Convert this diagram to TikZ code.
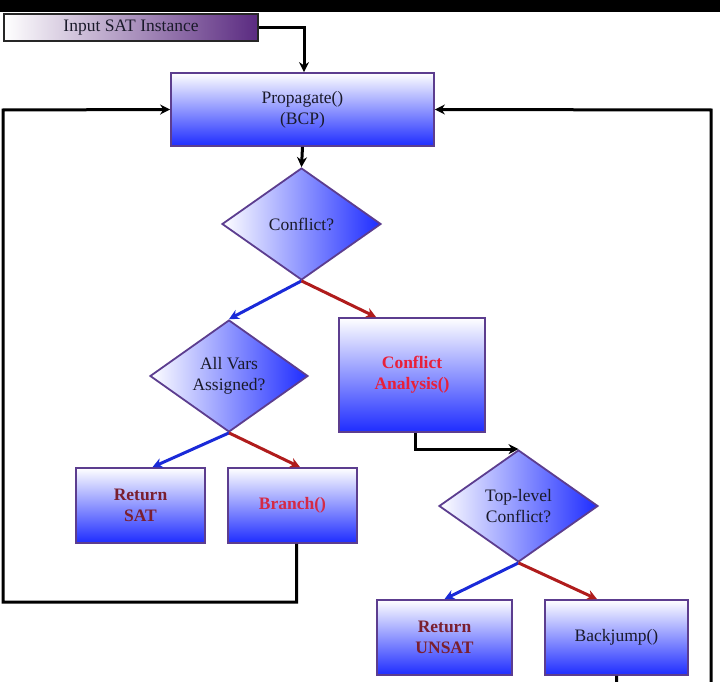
\documentclass[tikz,border=0pt]{standalone}
\usepackage{fontspec}
\setmainfont{Liberation Serif}
\usetikzlibrary{shapes.geometric,arrows.meta,calc}
\definecolor{bord}{HTML}{5C3D8F}
\definecolor{boxblue}{HTML}{1E2CFF}
\definecolor{inpurple}{HTML}{5A2A80}
\definecolor{txtdark}{HTML}{1A1A2A}
\definecolor{darkred}{HTML}{7A1F2F}
\definecolor{brred}{HTML}{D42A45}
\definecolor{carred}{HTML}{E8203A}
\definecolor{arrblue}{HTML}{1A2AD8}
\definecolor{arrred}{HTML}{B01C1C}
\newcommand\myfs{\fontsize{17.5}{21}\selectfont}
\begin{document}
\begin{tikzpicture}[x=1pt,y=-1pt,
  box/.style={rectangle, draw=bord, line width=1.8pt, top color=white, bottom color=boxblue,
    inner sep=0pt, align=center, font=\myfs, text=txtdark},
  dia/.style={diamond, draw=bord, line width=1.8pt, left color=white, right color=boxblue,
    inner sep=0pt, align=center, font=\myfs, text=txtdark, aspect=1.42},
  inbox/.style={rectangle, draw=black!85, line width=2.2pt, left color=white, right color=inpurple,
    inner sep=0pt, align=center, font=\myfs, text=txtdark},
  conn/.style={line width=3pt, -{Stealth[length=10pt,width=10pt]}},
  blk/.style={conn, draw=black},
  yes/.style={conn, draw=arrblue, -{Stealth[length=10pt,width=10pt,fill=arrblue]}},
  no/.style={conn, draw=arrred, -{Stealth[length=10pt,width=10pt,fill=arrred]}},
  plain/.style={line width=3pt, draw=black}
]
\useasboundingbox (0,0) rectangle (720,682);
\fill[black] (0,0) rectangle (720,12);

\node[inbox, minimum width=254pt, minimum height=27pt] (input) at (131,27.5) {Input SAT Instance};
\node[box, minimum width=263pt, minimum height=73pt] (prop) at (302.5,109.5) {Propagate()\\(BCP)};
\node[dia, minimum width=159pt, minimum height=112pt] (conf) at (301.5,224) {Conflict?};
\node[dia, minimum width=158pt, minimum height=112pt] (allv) at (229,376) {All Vars\\Assigned?};
\node[box, minimum width=146pt, minimum height=114pt, text=carred, font=\myfs\bfseries] (ca) at (412,375) {Conflict\\Analysis()};
\node[box, minimum width=129pt, minimum height=75pt, text=darkred, font=\myfs\bfseries] (rsat) at (140.5,505.5) {Return\\SAT};
\node[box, minimum width=129pt, minimum height=75pt, text=brred, font=\myfs\bfseries] (branch) at (292.5,505.5) {Branch()};
\node[dia, minimum width=159pt, minimum height=112pt] (top) at (518.5,506) {Top-level\\Conflict?};
\node[box, minimum width=135pt, minimum height=75pt, text=darkred, font=\myfs\bfseries] (runsat) at (444.5,637.5) {Return\\UNSAT};
\node[box, minimum width=143pt, minimum height=75pt] (bj) at (616.5,637.5) {Backjump()};

\coordinate (lb) at (3,602);
\coordinate (lt) at (3,110);
\coordinate (rb) at (711,720);
\coordinate (rt) at (711,110);

\draw[blk] (input.east) -| ($(prop.north)+(1.5,0)$);
\draw[blk] (prop.south) -- (conf.north);
\draw[yes] (conf.south) -- (allv.north);
\draw[no] (conf.south) -- ($(ca.north west)+(38,0)$);
\draw[yes] (allv.south) -- ($(rsat.north)+(12,0)$);
\draw[no] (allv.south) -- ($(branch.north)+(7.5,0)$);
\draw[blk] ($(branch.south)+(4,0)$) |- (lb) -- (lt) -- (prop.west);
\draw[blk] ($(ca.south)+(3,0)$) |- (top.north);
\draw[yes] (top.south) -- (runsat.north);
\draw[no] (top.south) -- ($(bj.north)+(-19.5,0)$);
\draw[blk] (bj.south) |- (rb) -- (rt) -- (prop.east);
\end{tikzpicture}
\end{document}
